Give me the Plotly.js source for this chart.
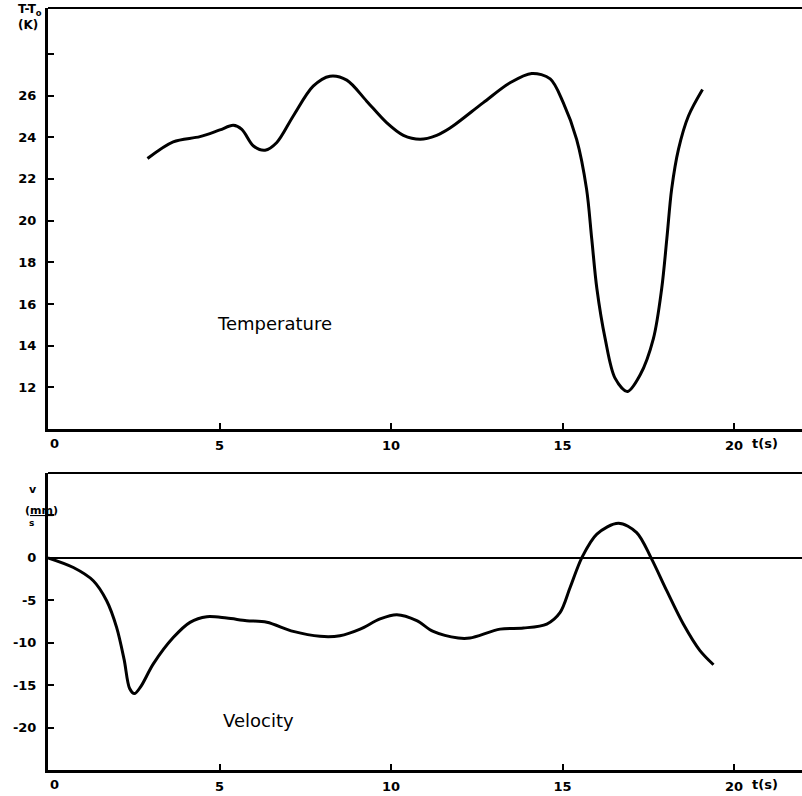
<!DOCTYPE html>
<html><head><meta charset="utf-8">
<script src="https://cdn.plot.ly/plotly-3.0.1.min.js"></script>
<style>html,body{margin:0;padding:0;background:#fff}</style>
</head><body><div id="chart" style="width:802px;height:796px"></div>
<script>
// Temperature panel data: time (s) and T - T0 (K)
var tempTime = [2.90,3.65,4.43,5.01,5.40,5.65,5.99,6.33,6.67,7.15,7.73,8.22,8.71,9.29,9.87,10.36,10.85,11.33,11.72,12.69,13.47,14.10,14.64,15.02,15.41,15.70,15.85,16.00,16.24,16.53,16.89,17.26,17.65,17.89,18.04,18.18,18.38,18.67,19.08];
var tempValue = [22.98,23.78,24.03,24.35,24.57,24.38,23.58,23.38,23.75,25.02,26.45,26.93,26.74,25.73,24.70,24.09,23.90,24.09,24.44,25.66,26.61,27.06,26.80,25.66,23.90,21.51,19.13,16.74,14.35,12.44,11.80,12.59,14.35,16.74,19.13,21.51,23.43,25.02,26.29];
// Velocity panel data: time (s) and v (mm/s)
var velTime = [0,0.74,1.32,1.71,2.00,2.22,2.38,2.52,2.70,3.07,3.65,4.14,4.63,5.21,5.79,6.38,7.15,7.93,8.51,9.10,9.68,10.17,10.75,11.23,11.96,12.30,13.18,13.86,14.54,14.93,15.22,15.56,16.00,16.63,17.16,17.58,18.04,18.52,19.00,19.40];
var velValue = [0,-1.14,-2.7,-5.06,-8.2,-12.0,-15.4,-16.0,-15.2,-12.5,-9.4,-7.6,-6.94,-7.1,-7.4,-7.6,-8.67,-9.25,-9.18,-8.4,-7.2,-6.7,-7.4,-8.67,-9.45,-9.45,-8.4,-8.27,-7.8,-6.43,-3.5,0,2.8,4.08,2.98,0,-3.9,-7.8,-10.9,-12.6];
// Tick labels
var xTicks = [0,5,10,15,20];
var xTickText = ['','5','10','15','20'];
var tempTicks = [12,14,16,18,20,22,24,26,28];
var tempTickText = ['12','14','16','18','20','22','24','26',''];
var velTicks = [5,0,-5,-10,-15,-20];
var velTickText = ['','0','-5','-10','-15','-20'];

var tickFont = {family:'DejaVu Sans', size:13, weight:'bold', color:'#000'};
var line = {color:'#000', width:3, shape:'spline', smoothing:0.9};

var traces = [
  {x:tempTime, y:tempValue, type:'scatter', mode:'lines', line:line, xaxis:'x', yaxis:'y', hoverinfo:'skip'},
  {x:velTime, y:velValue, type:'scatter', mode:'lines', line:line, xaxis:'x2', yaxis:'y2', hoverinfo:'skip'}
];

function xa(anchor){
  return {range:[0,21.98], anchor:anchor, showgrid:false, zeroline:false, showline:true, linecolor:'#000', linewidth:3,
    ticks:'inside', ticklen:6, tickwidth:2, tickcolor:'#000', tickvals:xTicks, ticktext:xTickText, tickfont:tickFont, ticklabelstandoff:2};
}
function ya(anchor, dom, rng, tv, tt, zl){
  return {domain:dom, range:rng, anchor:anchor, showgrid:false, zeroline:zl, zerolinecolor:'#000', zerolinewidth:2,
    showline:true, linecolor:'#000', linewidth:3, ticks:'inside', ticklen:6, tickwidth:2, tickcolor:'#000',
    tickvals:tv, ticktext:tt, tickfont:tickFont, ticklabelstandoff:6};
}

var layout = {
  width:802, height:796, margin:{l:48, r:0, t:8, b:26},
  paper_bgcolor:'#fff', plot_bgcolor:'#fff', showlegend:false,
  xaxis: xa('y'),
  yaxis: ya('x', [0.4475,1], [10,30.2], tempTicks, tempTickText, false),
  xaxis2: xa('y2'),
  yaxis2: ya('x2', [0,0.3898], [-25,10], velTicks, velTickText, true),
  shapes:[
    {type:'line', xref:'x domain', yref:'y domain', x0:0, x1:1, y0:1, y1:1, line:{color:'#000', width:2}},
    {type:'line', xref:'x2 domain', yref:'y2 domain', x0:0, x1:1, y0:1, y1:1, line:{color:'#000', width:2}}
  ],
  annotations:[
    {text:'Temperature', xref:'x', yref:'y', x:6.59, y:15.06, showarrow:false, font:{family:'DejaVu Sans', size:18, color:'#000'}},
    {text:'Velocity', xref:'x2', yref:'y2', x:6.15, y:-19.2, showarrow:false, font:{family:'DejaVu Sans', size:18, color:'#000'}},
    {text:'0', xref:'x', yref:'y', x:0.2, y:10, yanchor:'top', yshift:-5, showarrow:false, font:tickFont},
    {text:'0', xref:'x2', yref:'y2', x:0.2, y:-25, yanchor:'top', yshift:-5, showarrow:false, font:tickFont},
    {text:'t(s)', xref:'x', yref:'y', x:20.9, y:10, yanchor:'top', yshift:-5, showarrow:false, font:tickFont},
    {text:'t(s)', xref:'x2', yref:'y2', x:20.9, y:-25, yanchor:'top', yshift:-5, showarrow:false, font:tickFont},
    {text:'T-T<sub>o</sub><br>(K)', xref:'paper', yref:'y', x:-0.042, y:29.75, showarrow:false, align:'left', font:{family:'DejaVu Sans', size:12, weight:'bold', color:'#000'}},
    {text:'v', xref:'paper', yref:'y2', x:-0.028, y:8.0, showarrow:false, font:{family:'DejaVu Sans', size:11, weight:'bold', color:'#000'}},
    {text:'(<u>mm</u>)', xref:'paper', yref:'y2', x:-0.033, y:5.6, showarrow:false, font:{family:'DejaVu Sans', size:11, weight:'bold', color:'#000'}},
    {text:'s', xref:'paper', yref:'y2', x:-0.028, y:4.1, showarrow:false, font:{family:'DejaVu Sans', size:9, weight:'bold', color:'#000'}}
  ]
};
Plotly.newPlot('chart', traces, layout, {staticPlot:true, displayModeBar:false});
</script></body></html>
